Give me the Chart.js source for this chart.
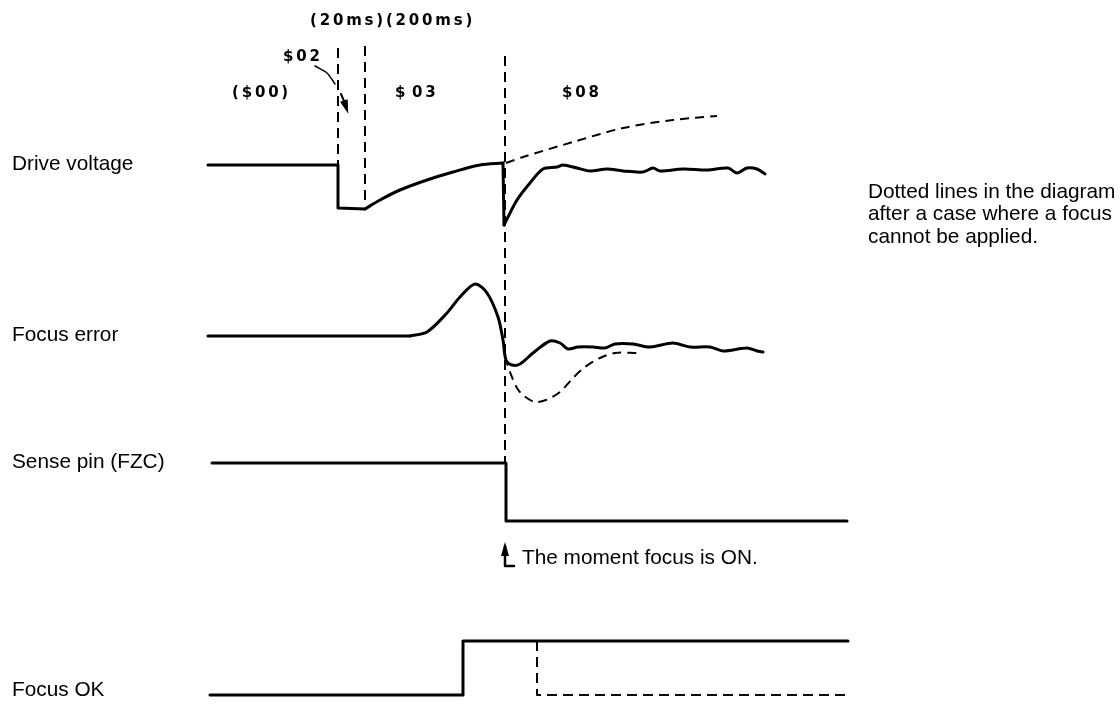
<!DOCTYPE html>
<html>
<head>
<meta charset="utf-8">
<title>Focus timing</title>
<script src="https://cdn.jsdelivr.net/npm/chart.js@4"></script>
<style>
    html, body { margin: 0; padding: 0; background: #fff; }
    #wrap { width: 1120px; height: 705px; position: relative; }
</style>
</head>
<body>
<div id="wrap"><canvas id="timingChart"></canvas></div>
<script>
// --- Data (x = time units, y = trace level, both) ---

// Drive voltage
const driveStep = [[208, 165], [338, 165], [338, 208], [365, 209]];
const driveRise = [[365, 209], [380, 200], [400, 190], [427, 180], [453, 172], [480, 165], [503, 163]];
const driveDrop = [[503, 163], [504, 225]];
const driveSettle = [[504, 225], [517, 200], [530, 183], [543, 169], [557, 167], [563, 165], [577, 168],
    [590, 171], [607, 169], [623, 171], [643, 172], [653, 168], [660, 171], [683, 169], [707, 170],
    [728, 168], [737, 173], [747, 168], [757, 169], [765, 174]];
const driveNoFocus = [[506, 163], [523, 157], [573, 142], [623, 128], [673, 120], [717, 116]];

// Focus error
const errorFlat = [[208, 336], [410, 336]];
const errorPeak = [[410, 336], [427, 332], [447, 313], [460, 297], [475, 284], [487, 293], [498, 317],
    [503, 340], [506, 360], [512, 365], [520, 364], [533, 353], [550, 341], [560, 343], [568, 349],
    [578, 347], [593, 347], [605, 348], [615, 344], [633, 344], [650, 347], [673, 343], [690, 347],
    [710, 347], [723, 351], [747, 348], [757, 351], [763, 352]];
const errorNoFocus = [[505, 357], [510, 372], [517, 388], [524, 396], [535, 402], [546, 400], [560, 392],
    [573, 378], [585, 367], [600, 358], [615, 353], [637, 353]];

// Sense pin (FZC)
const senseLevels = [[212, 463], [506, 463], [506, 521], [847, 521]];

// Focus OK
const okLevels = [[210, 695], [463, 695], [463, 641], [848, 641]];
const okNoFocus = [[537, 641], [537, 695], [850, 695]];

// Phase boundaries (dashed markers)
const markerA = [[338, 48], [338, 208]];
const markerB = [[365, 46], [365, 200]];
const markerC = [[505, 56], [505, 463]];

// Pointers ($02 pointer is broken where it crosses the marker)
const pointer02a = [[315, 66], [327, 73], [335, 84]];
const pointer02b = [[341, 94], [344, 101], [347, 110]];
const pointerOn = [[514, 566], [505, 566], [505, 546]];

// Text
const traceLabels = ['Drive voltage', 'Focus error', 'Sense pin (FZC)', 'Focus OK'];
const traceLabelY = [164, 335, 462, 690];
const stateLabels = ['(20ms)(200ms)', '$02', '($00)', '$03', '$08'];
const stateLabelPos = [[310, 21], [283, 57], [232, 93], [395, 93], [562, 93]];
const noteLines = ['Dotted lines in the diagram', 'after a case where a focus', 'cannot be applied.'];
const noteTop = [868, 192];
const momentText = 'The moment focus is ON.';
const momentPos = [522, 558];

// --- Helpers ---
const toPts = arr => arr.map(p => ({ x: p[0], y: p[1] }));

function trace(data, opts) {
    return Object.assign({
        data: toPts(data),
        borderColor: '#000',
        borderWidth: 3,
        pointRadius: 0,
        tension: 0,
        fill: false,
        borderCapStyle: 'round',
        borderJoinStyle: 'round'
    }, opts || {});
}

const solid = { borderWidth: 3 };
const smooth = { borderWidth: 3, tension: 0.3 };
const dashed = { borderWidth: 2, borderDash: [10, 6], borderCapStyle: 'butt' };
const dashedSmooth = { borderWidth: 2, borderDash: [9, 6], borderCapStyle: 'butt', tension: 0.3 };

// --- Text + arrowheads plugin ---
const annotate = {
    id: 'annotate',
    afterDatasetsDraw(chart) {
        const { ctx, scales: { x, y } } = chart;
        ctx.save();
        ctx.fillStyle = '#000';
        ctx.textBaseline = 'middle';
        ctx.textAlign = 'left';

        // trace names
        ctx.font = "20.8px 'Liberation Sans', Arial, sans-serif";
        traceLabels.forEach((t, i) => ctx.fillText(t, x.getPixelForValue(12), y.getPixelForValue(traceLabelY[i])));

        // note on the right
        noteLines.forEach((t, i) => ctx.fillText(t, x.getPixelForValue(noteTop[0]), y.getPixelForValue(noteTop[1] + i * 22.5)));

        // moment text
        ctx.fillText(momentText, x.getPixelForValue(momentPos[0]), y.getPixelForValue(momentPos[1]));

        // state codes
        ctx.font = "bold 15px 'DejaVu Sans', sans-serif";
        ctx.letterSpacing = '2.8px';
        stateLabels.forEach((t, i) => {
            const px = x.getPixelForValue(stateLabelPos[i][0]), py = y.getPixelForValue(stateLabelPos[i][1]);
            if (t === '$03') {
                // the drawing leaves a small gap after the dollar sign
                ctx.fillText('$', px, py);
                ctx.fillText('03', px + 17, py);
            } else {
                ctx.fillText(t, px, py);
            }
        });
        ctx.letterSpacing = '0px';

        // arrowheads at the tips of the pointers
        [pointer02b, pointerOn].forEach(p => {
            const a = p[p.length - 2], b = p[p.length - 1];
            const bx = x.getPixelForValue(b[0]), by = y.getPixelForValue(b[1]);
            const ang = Math.atan2(by - y.getPixelForValue(a[1]), bx - x.getPixelForValue(a[0]));
            const len = 10, w = 4;
            ctx.beginPath();
            ctx.moveTo(bx + Math.cos(ang) * 4, by + Math.sin(ang) * 4);
            ctx.lineTo(bx - Math.cos(ang) * len - Math.sin(ang) * w, by - Math.sin(ang) * len + Math.cos(ang) * w);
            ctx.lineTo(bx - Math.cos(ang) * len + Math.sin(ang) * w, by - Math.sin(ang) * len - Math.cos(ang) * w);
            ctx.closePath();
            ctx.fill();
        });
        ctx.restore();
    }
};

// --- Chart ---
const ctx = document.getElementById('timingChart').getContext('2d');
new Chart(ctx, {
    type: 'scatter',
    data: {
        datasets: [
            trace(driveStep, solid),
            trace(driveRise, smooth),
            trace(driveDrop, solid),
            trace(driveSettle, smooth),
            trace(driveNoFocus, dashedSmooth),
            trace(errorFlat, solid),
            trace(errorPeak, smooth),
            trace(errorNoFocus, dashedSmooth),
            trace(senseLevels, solid),
            trace(okLevels, solid),
            trace(okNoFocus, dashed),
            trace(markerA, dashed),
            trace(markerB, dashed),
            trace(markerC, dashed),
            trace(pointer02a, { borderWidth: 1.5, tension: 0.3 }),
            trace(pointer02b, { borderWidth: 2 }),
            trace(pointerOn, { borderWidth: 2.5 })
        ]
    },
    options: {
        responsive: true,
        maintainAspectRatio: false,
        animation: false,
        showLine: true,
        layout: { padding: 0 },
        plugins: { legend: { display: false }, tooltip: { enabled: false } },
        scales: {
            x: { type: 'linear', min: 0, max: 1120, display: false },
            y: { type: 'linear', min: 0, max: 705, reverse: true, display: false }
        }
    },
    plugins: [annotate]
});
</script>
</body>
</html>
